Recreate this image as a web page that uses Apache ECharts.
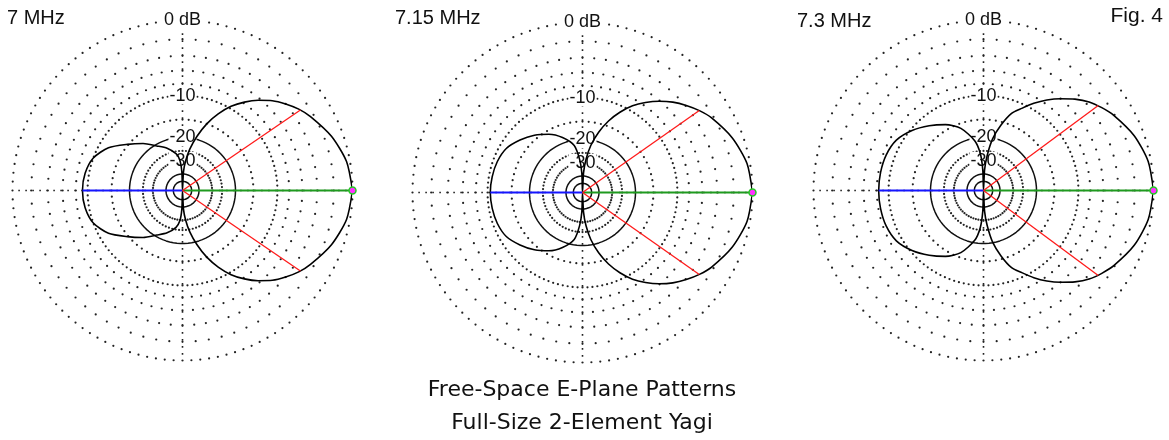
<!DOCTYPE html>
<html>
<head>
<meta charset="utf-8">
<style>
  html, body { margin: 0; padding: 0; background: #ffffff; }
  #chart { width: 1169px; height: 440px; }
</style>
<script src="https://cdn.jsdelivr.net/npm/echarts@6/dist/echarts.min.js"></script>
</head>
<body>
<div id="chart"></div>
<script>
// Free-space E-plane patterns of a full-size 2-element Yagi at three frequencies.
// Levels are in dB relative to the forward maximum; angles in degrees from boresight
// (0 = forward, 180 = rear). Patterns are symmetric about the boresight axis.
const frontAngles = [0, 10, 20, 30, 35, 40, 45, 50, 55, 60, 65, 70, 75, 80, 84, 87, 90];
const backAngles  = [92, 95, 100, 110, 120, 130, 140, 150, 160, 170, 180];

const front7   = [0, -0.35, -1.2, -2.4, -3.1, -4.0, -5.0, -6.3, -7.8, -9.6, -12.0, -15.0, -19.0, -24.0, -30, -38, -99];
const back7    = [-38, -29.5, -26.0, -22.8, -20.5, -17.5, -14.8, -11.8, -10.0, -9.3, -9.1];

const front715 = [0, -0.3, -1.1, -2.25, -3.0, -3.9, -4.9, -6.1, -7.5, -9.1, -11.2, -13.8, -17.2, -21.8, -28, -37, -99];
const back715  = [-37, -28, -21.8, -18.3, -15.9, -14.1, -12.6, -11.3, -10.8, -10.6, -10.5];

const front73  = [0, -0.28, -1.0, -2.1, -2.8, -3.6, -4.7, -6.0, -7.4, -9.0, -10.8, -12.5, -15.8, -20.2, -27, -36, -99];
const back73   = [-36, -26, -20.8, -16.2, -13.8, -12.0, -10.3, -9.0, -8.5, -8.35, -8.3];

// Half-power (-3 dB) angle either side of boresight
const halfPowerAngles = [34.3, 35.1, 36.5];

const freqLabels = ['7 MHz', '7.15 MHz', '7.3 MHz'];

// Grid rings (dB) on the ARRL log-periodic scale
const fineRings   = [0, -10];                          // dots every 3 degrees
const sparseRings = [-2, -4, -6, -8, -15, -25, -30];   // dots every 5 degrees
const solidRings  = [-20, -40, -50];
const ringLabelLevels = [0, -10, -20, -30];
const ringLabels      = ['0 dB', '-10', '-20', '-30'];

const titleLines = ['Free-Space E-Plane Patterns', 'Full-Size 2-Element Yagi'];
const figLabel = 'Fig. 4';

// ARRL log-periodic radius: each 2 dB shrinks the radius by a factor of 0.89
function arrl(db) { return Math.pow(0.89, -db / 2); }

function buildTrace(front, back) {
  const pts = [];
  frontAngles.forEach((a, i) => pts.push([arrl(front[i]), a]));
  backAngles.forEach((a, i) => pts.push([arrl(back[i]), a]));
  for (let k = pts.length - 2; k >= 0; k--) pts.push([pts[k][0], 360 - pts[k][1]]);
  return pts;
}

function ringDots(levels, step) {
  const pts = [];
  levels.forEach(db => {
    for (let a = 0; a < 360; a += step) pts.push([arrl(db), a]);
  });
  return pts;
}

function circle(db) {
  const pts = [];
  for (let a = 0; a <= 360; a += 2) pts.push([arrl(db), a]);
  return pts;
}

const plots = [
  { center: [182.5, 190.5], front: front7,   back: back7 },
  { center: [582.5, 192.5], front: front715, back: back715 },
  { center: [983.5, 190.5], front: front73,  back: back73 }
];

const INK = '#111111';
const DOT = '#222222';
const FONT = '"Liberation Sans", Arial, sans-serif';

const polar = [], angleAxis = [], radiusAxis = [], series = [];

plots.forEach((p, i) => {
  polar.push({ center: p.center, radius: 170 });
  angleAxis.push({ polarIndex: i, type: 'value', min: 0, max: 360, startAngle: 0, clockwise: false, show: false });
  radiusAxis.push({ polarIndex: i, type: 'value', min: 0, max: 1, show: false });

  const base = { coordinateSystem: 'polar', polarIndex: i, silent: true, animation: false };

  // dotted grid rings
  series.push(Object.assign({}, base, {
    type: 'scatter', symbol: 'circle', symbolSize: 2.2, z: 1,
    itemStyle: { color: DOT, opacity: 1 },
    data: ringDots(fineRings, 3).concat(ringDots(sparseRings, 5))
  }));
  // dotted spokes on the principal axes
  [0, 90, 180, 270].forEach(a => {
    series.push(Object.assign({}, base, {
      type: 'line', showSymbol: false, z: 1,
      lineStyle: { color: DOT, width: 1.6, type: [1.6, 5.4] },
      data: [[arrl(-30), a], [1, a]]
    }));
  });
  // solid rings
  solidRings.forEach(db => {
    series.push(Object.assign({}, base, {
      type: 'line', showSymbol: false, z: 2,
      lineStyle: { color: INK, width: 1.5 },
      data: circle(db)
    }));
  });
  // ring labels
  series.push(Object.assign({}, base, {
    type: 'scatter', symbolSize: 0, z: 3,
    itemStyle: { opacity: 1 },
    data: ringLabelLevels.map((db, k) => ({ value: [arrl(db), 90], name: ringLabels[k] })),
    label: {
      show: true, position: 'inside', formatter: '{b}',
      fontFamily: FONT, fontSize: 18, color: INK,
      textBorderWidth: 0, opacity: 1,
      backgroundColor: '#ffffff', padding: [0, 1]
    }
  }));
  // pattern trace
  series.push(Object.assign({}, base, {
    type: 'line', showSymbol: false, z: 5, smooth: 0.25,
    lineStyle: { color: '#000000', width: 1.6 },
    data: buildTrace(p.front, p.back)
  }));
  // forward (green) and rear (blue) radials
  series.push(Object.assign({}, base, {
    type: 'line', showSymbol: false, z: 6,
    lineStyle: { color: '#1f9a1f', width: 2 },
    data: [[0, 0], [arrl(p.front[0]), 0]]
  }));
  series.push(Object.assign({}, base, {
    type: 'line', showSymbol: false, z: 6,
    lineStyle: { color: '#1515ff', width: 2 },
    data: [[0, 180], [arrl(p.back[p.back.length - 1]), 180]]
  }));
  // half-power radials
  [halfPowerAngles[i], 360 - halfPowerAngles[i]].forEach(a => {
    series.push(Object.assign({}, base, {
      type: 'line', showSymbol: false, z: 6,
      lineStyle: { color: '#ff1a1a', width: 1.3 },
      data: [[0, a], [arrl(-3), a]]
    }));
  });
  // maximum marker
  series.push(Object.assign({}, base, {
    type: 'scatter', symbol: 'circle', symbolSize: 7, z: 7,
    itemStyle: { color: '#ff33ff', borderColor: '#22cc22', borderWidth: 1.5, opacity: 1 },
    data: [[arrl(p.front[0]), 0]]
  }));
});

function txt(text, x, y, size, align, family) {
  return {
    type: 'text', x: x, y: y, silent: true, z: 10,
    style: {
      text: text, fill: INK,
      font: size + 'px ' + (family || FONT),
      textAlign: align, textVerticalAlign: 'middle',
      align: align, verticalAlign: 'middle'
    }
  };
}

const graphic = [
  txt(freqLabels[0], 7, 18, 20, 'left'),
  txt(freqLabels[1], 395, 18.5, 20, 'left'),
  txt(freqLabels[2], 797, 21.5, 20, 'left'),
  txt(figLabel, 1163, 16, 21, 'right'),
  txt(titleLines[0], 582, 390, 22, 'center', '"DejaVu Sans", sans-serif'),
  txt(titleLines[1], 582, 423, 22, 'center', '"DejaVu Sans", sans-serif')
];

const chart = echarts.init(document.getElementById('chart'), null, { renderer: 'canvas' });
chart.setOption({
  backgroundColor: '#ffffff',
  animation: false,
  polar: polar,
  angleAxis: angleAxis,
  radiusAxis: radiusAxis,
  series: series,
  graphic: graphic
});
</script>
</body>
</html>
